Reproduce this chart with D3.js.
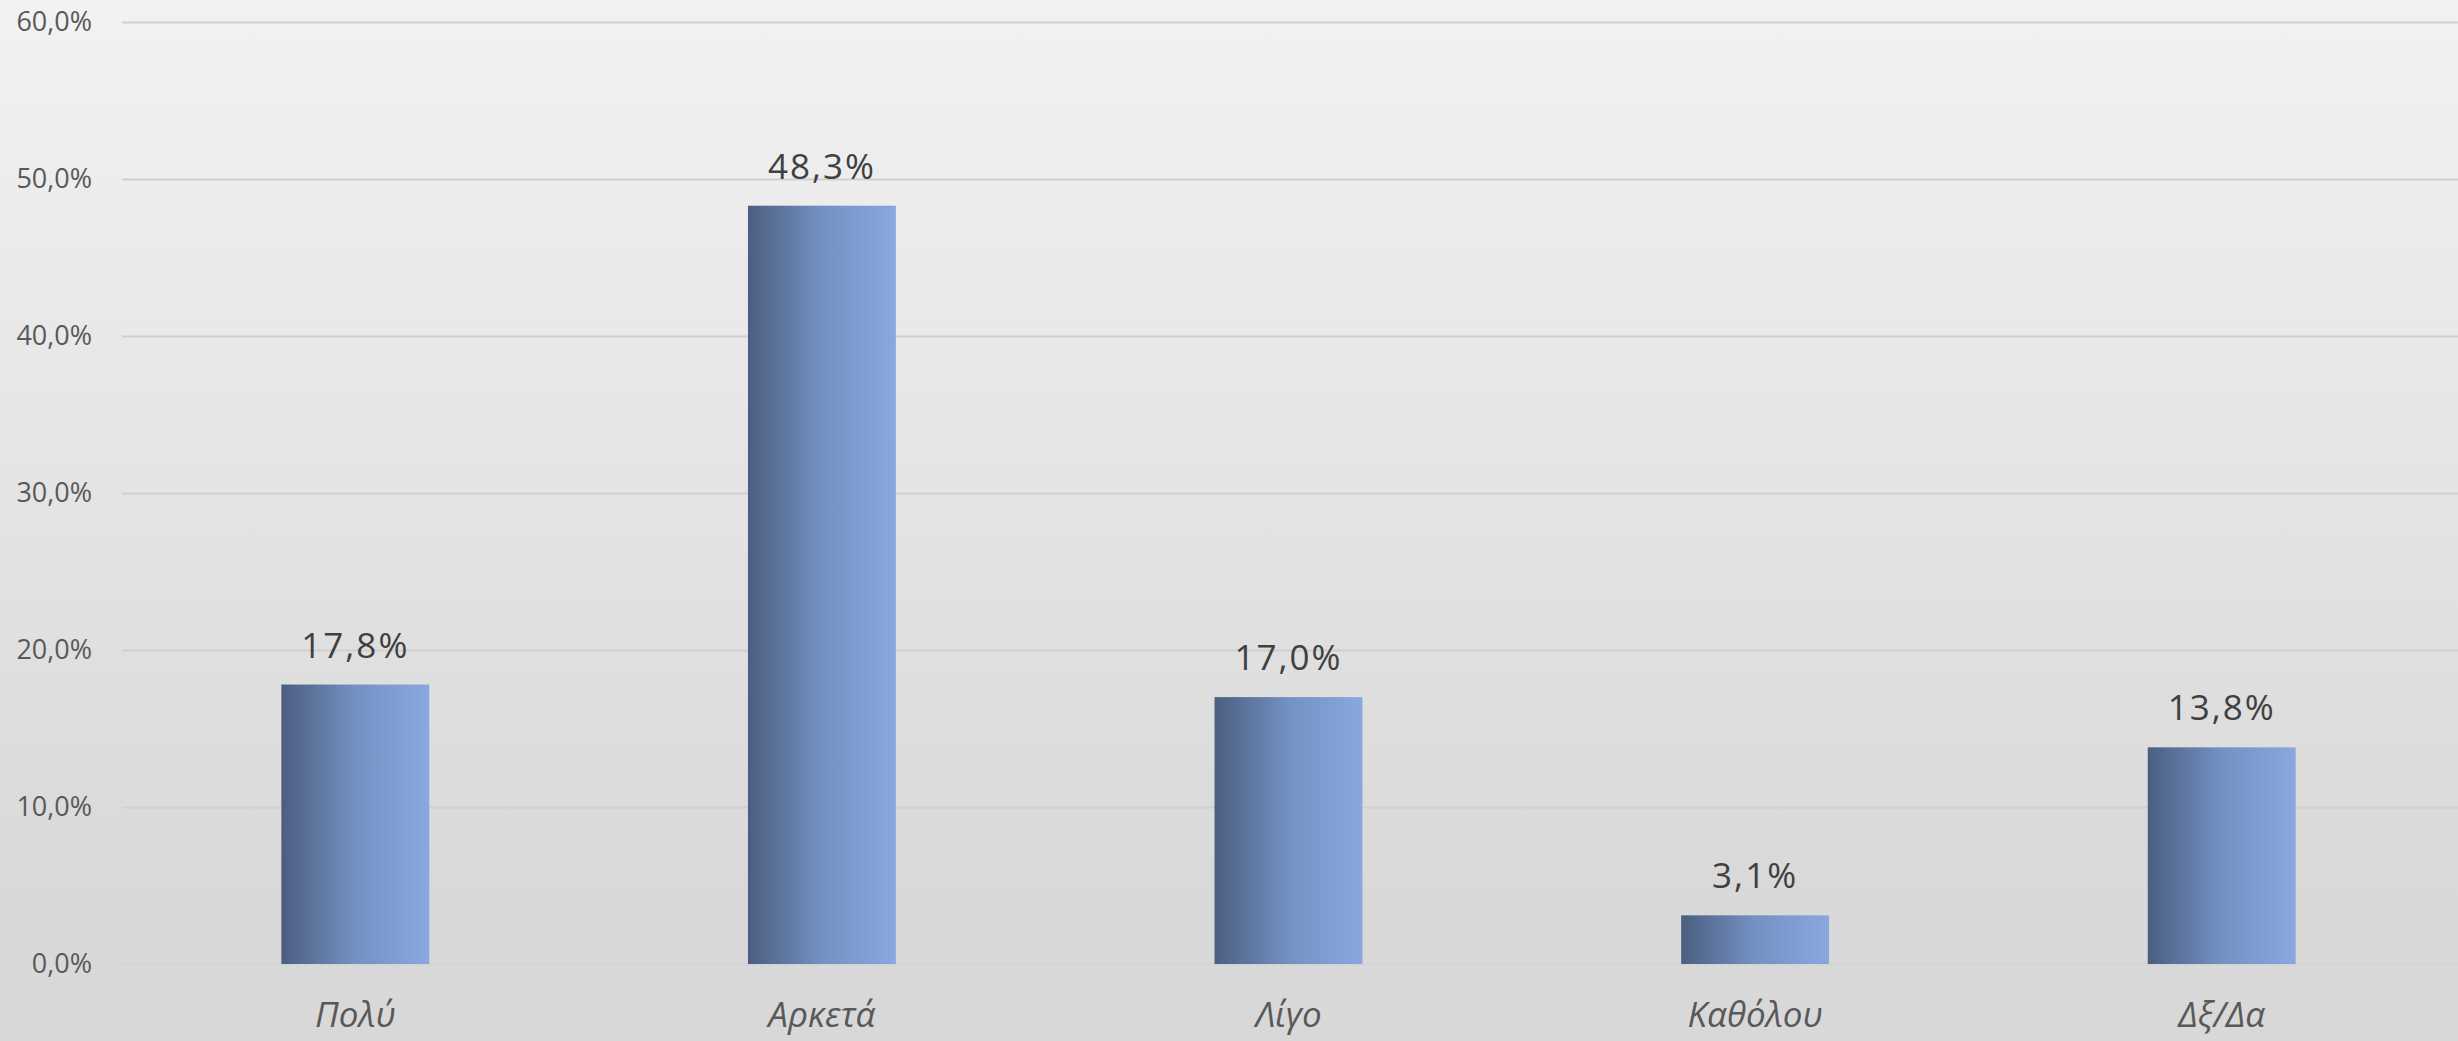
<!DOCTYPE html>
<html>
<head>
<meta charset="utf-8">
<script src="https://cdn.jsdelivr.net/npm/d3@7"></script>
<style>
  html, body { margin: 0; padding: 0; overflow: hidden; }
  text { font-family: "Open Sans", "Noto Sans", sans-serif; }
</style>
</head>
<body>
<script>
const categories = ["Πολύ", "Αρκετά", "Λίγο", "Καθόλου", "Δξ/Δα"];
const values = [17.8, 48.3, 17.0, 3.1, 13.8];
const yTicks = [0, 10, 20, 30, 40, 50, 60];

const width = 2458, height = 1041;
const margin = { top: 22, right: 3, bottom: 77, left: 122 };

const grLocale = d3.formatLocale({ decimal: ",", thousands: ".", grouping: [3], currency: ["", "€"] });
const fmt = grLocale.format(".1f");

const svg = d3.select("body")
  .append("svg")
  .attr("width", width)
  .attr("height", height);

const defs = svg.append("defs");

const bg = defs.append("linearGradient")
  .attr("id", "bg")
  .attr("x1", 0).attr("y1", 0).attr("x2", 0).attr("y2", 1);
bg.append("stop").attr("offset", "0%").attr("stop-color", "#f2f2f2");
bg.append("stop").attr("offset", "85%").attr("stop-color", "#d9d9d9");
bg.append("stop").attr("offset", "100%").attr("stop-color", "#d8d8d8");

const barGrad = defs.append("linearGradient")
  .attr("id", "barGrad")
  .attr("x1", 0).attr("y1", 0).attr("x2", 1).attr("y2", 0);
barGrad.append("stop").attr("offset", "0%").attr("stop-color", "#4b5e81");
barGrad.append("stop").attr("offset", "50%").attr("stop-color", "#7391c2");
barGrad.append("stop").attr("offset", "100%").attr("stop-color", "#8aa8e0");

svg.append("rect")
  .attr("width", width)
  .attr("height", height)
  .attr("fill", "url(#bg)");

const x = d3.scaleBand()
  .domain(categories)
  .range([margin.left, width - margin.right])
  .paddingInner(0.683)
  .paddingOuter(0.3415);

const y = d3.scaleLinear()
  .domain([0, 60])
  .range([height - margin.bottom, margin.top]);

// gridlines
svg.append("g")
  .selectAll("line")
  .data(yTicks)
  .join("line")
  .attr("x1", margin.left)
  .attr("x2", width)
  .attr("y1", d => Math.round(y(d)) + 0.5)
  .attr("y2", d => Math.round(y(d)) + 0.5)
  .attr("stroke", d => d === 0 ? "#d4d4d4" : "#d0d0d0")
  .attr("stroke-width", 2);

// y axis labels
const yAxis = d3.axisLeft(y)
  .tickValues(yTicks)
  .tickFormat(d => fmt(d) + "%")
  .tickSize(0)
  .tickPadding(0);

svg.append("g")
  .attr("transform", `translate(${92},0)`)
  .call(yAxis)
  .call(g => g.select(".domain").remove())
  .selectAll("text")
  .attr("fill", "#595959")
  .attr("font-size", 27)
  .attr("font-family", "'Open Sans', 'Noto Sans', sans-serif");

// bars
svg.append("g")
  .selectAll("rect")
  .data(values)
  .join("rect")
  .attr("x", (d, i) => x(categories[i]))
  .attr("y", d => y(d))
  .attr("width", x.bandwidth())
  .attr("height", d => y(0) - y(d))
  .attr("fill", "url(#barGrad)");

// value labels
svg.append("g")
  .selectAll("text")
  .data(values)
  .join("text")
  .attr("x", (d, i) => x(categories[i]) + x.bandwidth() / 2)
  .attr("y", d => y(d) - 27)
  .attr("text-anchor", "middle")
  .attr("fill", "#404040")
  .attr("font-size", 35)
  .attr("letter-spacing", 2)
  .text(d => fmt(d) + "%");

// category labels
const xAxis = d3.axisBottom(x).tickSize(0).tickPadding(0);
svg.append("g")
  .attr("transform", `translate(0,${y(0)})`)
  .call(xAxis)
  .call(g => g.select(".domain").remove())
  .selectAll("text")
  .attr("dy", null)
  .attr("y", 63)
  .attr("fill", "#595959")
  .attr("font-size", 35)
  .attr("font-style", "italic")
  .attr("font-family", "'Open Sans', 'Noto Sans', sans-serif");
</script>
</body>
</html>
